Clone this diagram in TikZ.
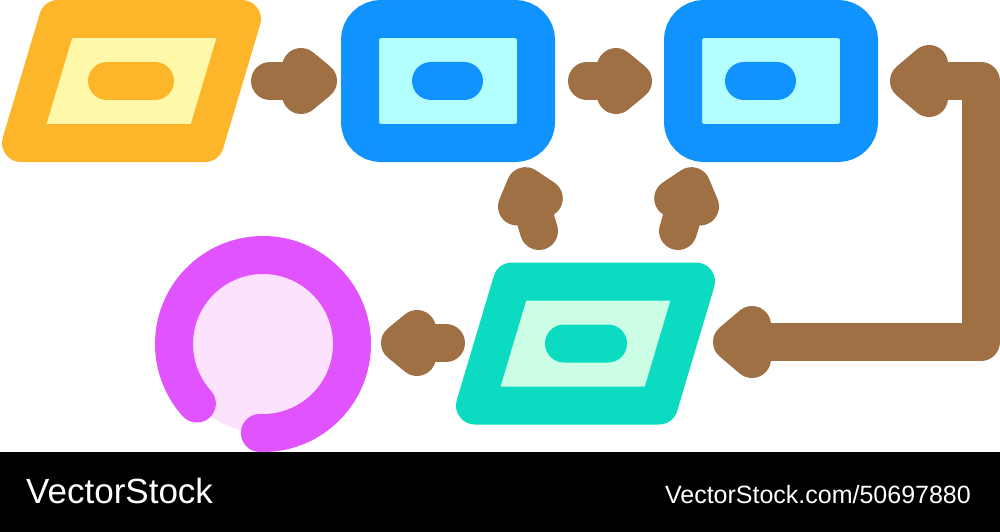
\documentclass[tikz,border=0pt]{standalone}
\usepackage{fontspec}
\setmainfont{Liberation Sans}
\usetikzlibrary{arrows.meta}

\definecolor{orangeline}{HTML}{FDB62A}
\definecolor{orangefill}{HTML}{FFF8A8}
\definecolor{blueline}{HTML}{1193FF}
\definecolor{bluefill}{HTML}{B3FEFE}
\definecolor{tealline}{HTML}{0BDCC1}
\definecolor{tealfill}{HTML}{CCFDE5}
\definecolor{pinkline}{HTML}{E053FE}
\definecolor{pinkfill}{HTML}{FDE2FE}
\definecolor{arrowbrown}{HTML}{9E7044}

\begin{document}
\begin{tikzpicture}[
        x=1pt, y=-1pt,
        box/.style={
            rectangle,
            draw=blueline,
            fill=bluefill,
            line width=38pt,
            rounded corners=21pt,
            minimum width=176pt,
            minimum height=124pt,
        },
        pill/.style={
            rectangle,
            rounded corners=19pt,
            minimum height=38pt,
            inner sep=0pt,
        },
        panel/.style={
            line width=38pt,
            line join=round,
        },
        flow/.style={
            draw=arrowbrown,
            line width=38pt,
            line cap=round,
            line join=round,
        },
        fathead/.tip={Straight Barb[round, length=17pt, width=28pt]},
        bighead/.tip={Straight Barb[round, length=20pt, width=34pt]},
        label/.style={
            text=white,
            inner sep=0pt,
        },
    ]

    \useasboundingbox (0,0) rectangle (1000,532);

    \coordinate (P1) at (131.5,81);
    \coordinate (P2) at (585.5,343.5);
    \coordinate (R) at (263,344);

    \draw [panel, draw=orangeline, fill=orangefill, shift={(P1)}]
        (-73.5,-62) -- (110.5,-62) -- (73.5,62) -- (-110.5,62) -- cycle;
    \draw [panel, draw=tealline, fill=tealfill, shift={(P2)}]
        (-73.5,-62) -- (110.5,-62) -- (73.5,62) -- (-110.5,62) -- cycle;

    \node (B1) at (448,81) [box] {};
    \node (B2) at (771,81) [box] {};

    \node (S1) at (131,81) [pill, fill=orangeline, minimum width=86pt] {};
    \node (S2) at (447.5,81) [pill, fill=blueline, minimum width=71pt] {};
    \node (S3) at (760.5,81) [pill, fill=blueline, minimum width=71pt] {};
    \node (S4) at (586,343.5) [pill, fill=tealline, minimum width=82pt] {};

    \fill [pinkfill] (R) circle (89);
    \draw [line width=38pt, line cap=round, draw=pinkline]
        ([shift={(92:89)}]R) arc (92:-222:89);

    \coordinate (a1) at (270,81);
    \coordinate (b1) at (337,81);
    \coordinate (a2) at (587,81);
    \coordinate (b2) at (652,81);
    \coordinate (a3) at (539,231);
    \coordinate (b3) at (520,168);
    \coordinate (a4) at (678,231);
    \coordinate (b4) at (697,168);
    \coordinate (a5) at (446,343);
    \coordinate (b5) at (381,343);
    \coordinate (L1) at (890,81);
    \coordinate (K1) at (981,81);
    \coordinate (K2) at (981,342);
    \coordinate (L2) at (713,342);

    \draw [flow, -fathead] (a1) -- (b1);
    \draw [flow, -fathead] (a2) -- (b2);
    \draw [flow, -fathead] (a3) -- (b3);
    \draw [flow, -fathead] (a4) -- (b4);
    \draw [flow, -fathead] (a5) -- (b5);
    \draw [flow, bighead-bighead] (L1) -- (K1) -- (K2) -- (L2);

    \fill [black] (0,452) rectangle (1000,532);
    \node (brand) at (26,503) [label, anchor=base west,
        font=\fontsize{35}{35}\selectfont] {VectorStock};
    \node (link) at (971,503) [label, anchor=base east,
        font=\fontsize{25}{25}\selectfont] {VectorStock.com/50697880};

\end{tikzpicture}
\end{document}
